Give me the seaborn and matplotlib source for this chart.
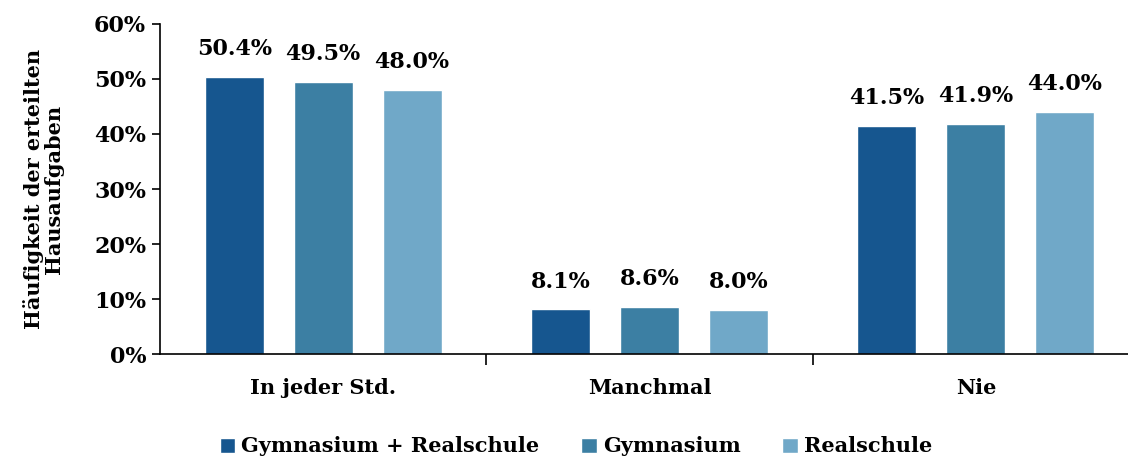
import numpy as np
import pandas as pd
import seaborn as sns
from matplotlib import pyplot as plt
from matplotlib.ticker import FuncFormatter

# Data
categories = ["In jeder Std.", "Manchmal", "Nie"]
series = ["Gymnasium + Realschule", "Gymnasium", "Realschule"]
gym_real = [50.4, 8.1, 41.5]
gym = [49.5, 8.6, 41.9]
real = [48.0, 8.0, 44.0]
colors = ["#16568f", "#3c7fa3", "#70a8c8"]

df = pd.DataFrame({
    "Kategorie": categories * 3,
    "Schule": [s for s in series for _ in categories],
    "Wert": gym_real + gym + real,
})

sns.set_style("white")
plt.rcParams["font.family"] = ["DejaVu Serif"]
plt.rcParams["font.weight"] = "bold"
plt.rcParams["text.color"] = "black"
plt.rcParams["xtick.color"] = "black"
plt.rcParams["ytick.color"] = "black"
plt.rcParams["axes.labelcolor"] = "black"

fig = plt.figure(figsize=(11.28, 4.61), dpi=100)
ax = fig.add_axes([0.1418, 0.232, 0.868, 0.716])

sns.barplot(data=df, x="Kategorie", y="Wert", hue="Schule", palette=colors,
            width=0.818, gap=0.337, ax=ax, legend=True, saturation=1)

for cont in ax.containers:
    ax.bar_label(cont, fmt="%.1f%%", padding=12, fontsize=16, fontweight="bold",
                 color="black")

ax.set_ylim(0, 60)
ax.set_yticks(np.arange(0, 61, 10))
ax.yaxis.set_major_formatter(FuncFormatter(lambda v, p: f"{v:.0f}%"))
ax.set_xlim(-0.5, 2.5)
ax.set_xticks([0, 1, 2])
ax.set_xticklabels(categories)
ax.set_xticks([0.5, 1.5], minor=True)

ax.tick_params(axis="y", which="major", left=True, direction="out", length=6,
               width=1.2, labelsize=16, pad=4)
ax.tick_params(axis="x", which="major", bottom=False, labelsize=15, pad=14)
ax.tick_params(axis="x", which="minor", bottom=True, direction="out", length=8, width=1.2)

for side in ["top", "right"]:
    ax.spines[side].set_visible(False)
for side in ["left", "bottom"]:
    ax.spines[side].set_color("black")
    ax.spines[side].set_linewidth(1.2)

ax.set_xlabel("")
ax.set_ylabel("Häufigkeit der erteilten\nHausaufgaben", fontsize=15, fontweight="bold",
              labelpad=22, linespacing=1.0)

ax.legend(loc="center", bbox_to_anchor=(0.425, -0.28), ncol=3, frameon=False,
          fontsize=15, handlelength=0.75, handleheight=0.75, handletextpad=0.3,
          columnspacing=2.0)

fig.savefig("out.png", dpi=100)
